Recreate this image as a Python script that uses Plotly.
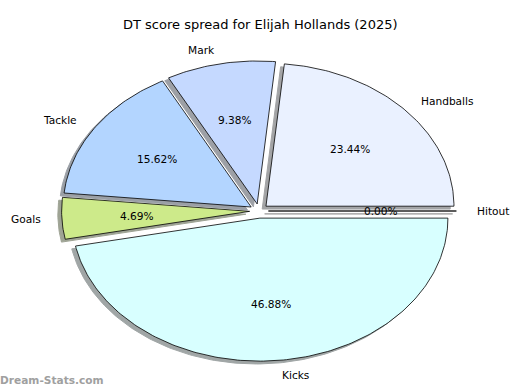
import numpy as np
import plotly.graph_objects as go

labels = ["Hitout", "Handballs", "Mark", "Tackle", "Goals", "Kicks"]
values = [0, 15, 6, 10, 3, 30]
colors = ["#FFFFFF", "#EAF1FF", "#C5D9FF", "#B3D5FF", "#CDEA8A", "#D8FFFF"]
explode = [0.05, 0.05, 0.05, 0.05, 0.05, 0.05]
title = "DT score spread for Elijah Hollands (2025)"
watermark = "Dream-Stats.com"

total = float(sum(values))
fracs = [v / total for v in values]

W, H = 520, 390
cx_px, cy_px = 259, 211
rx_px, ry_px = 188, 143

fig = go.Figure()

def wedge(t1, t2, ox, oy):
    n = max(2, int(abs(t2 - t1) / 1.0) + 2)
    th = np.radians(np.linspace(t1, t2, n))
    xs = np.concatenate([[ox], ox + np.cos(th), [ox]])
    ys = np.concatenate([[oy], oy + np.sin(th), [oy]])
    return xs, ys

def shadow_color(hexc):
    h = hexc.lstrip("#")
    r, g, b = [int(h[i:i + 2], 16) for i in (0, 2, 4)]
    f = lambda c: int(round(c * 0.3 * 0.5 + 255 * 0.5))
    return "rgb(%d,%d,%d)" % (f(r), f(g), f(b))

angles = []
theta = 0.0
for fr in fracs:
    t1 = theta
    t2 = theta + 360.0 * fr
    angles.append((t1, t2))
    theta = t2

# shadows
for (t1, t2), ex, col in zip(angles, explode, colors):
    mid = np.radians((t1 + t2) / 2)
    ox, oy = ex * np.cos(mid), ex * np.sin(mid)
    xs, ys = wedge(t1, t2, ox - 0.02, oy - 0.02)
    sc = shadow_color(col)
    fig.add_trace(go.Scatter(x=xs, y=ys, fill="toself", fillcolor=sc, mode="lines",
                             line=dict(color=sc, width=1), hoverinfo="skip", showlegend=False))

# wedges
for (t1, t2), ex, col, lab in zip(angles, explode, colors, labels):
    mid = np.radians((t1 + t2) / 2)
    ox, oy = ex * np.cos(mid), ex * np.sin(mid)
    xs, ys = wedge(t1, t2, ox, oy)
    fig.add_trace(go.Scatter(x=xs, y=ys, fill="toself", fillcolor=col, mode="lines",
                             line=dict(color="black", width=0.8), name=lab, showlegend=False))

font = dict(family="DejaVu Sans", size=10.6, color="black")
for (t1, t2), ex, fr, lab in zip(angles, explode, fracs, labels):
    mid = np.radians((t1 + t2) / 2)
    ox, oy = ex * np.cos(mid), ex * np.sin(mid)
    lx, ly = ox + 1.1 * np.cos(mid), oy + 1.1 * np.sin(mid)
    fig.add_annotation(x=lx, y=ly, text=lab, showarrow=False, font=font,
                       xanchor="left" if lx > 0 else "right", yanchor="middle")
    px, py = ox + 0.6 * np.cos(mid), oy + 0.6 * np.sin(mid)
    fig.add_annotation(x=px, y=py, text="%.2f%%" % (fr * 100), showarrow=False, font=font,
                       xanchor="center", yanchor="middle")

fig.add_annotation(xref="paper", yref="paper", x=0.5, y=1 - 25 / H, text=title, showarrow=False,
                   font=dict(family="DejaVu Sans", size=13, color="black"),
                   xanchor="center", yanchor="middle")
fig.add_annotation(xref="paper", yref="paper", x=0, y=1 - 380 / H, text="<b>" + watermark + "</b>",
                   showarrow=False, font=dict(family="DejaVu Sans", size=10.6, color="#a0a0a0"),
                   xanchor="left", yanchor="middle", xshift=-2)

fig.update_xaxes(range=[-cx_px / rx_px, (W - cx_px) / rx_px], visible=False, fixedrange=True)
fig.update_yaxes(range=[-(H - cy_px) / ry_px, cy_px / ry_px], visible=False, fixedrange=True)
fig.update_layout(width=W, height=H, margin=dict(l=0, r=0, t=0, b=0),
                  paper_bgcolor="white", plot_bgcolor="white")

fig.write_html("out.html", config={"displayModeBar": False},
               post_script="document.body.style.margin='0';document.body.style.overflow='hidden';")
